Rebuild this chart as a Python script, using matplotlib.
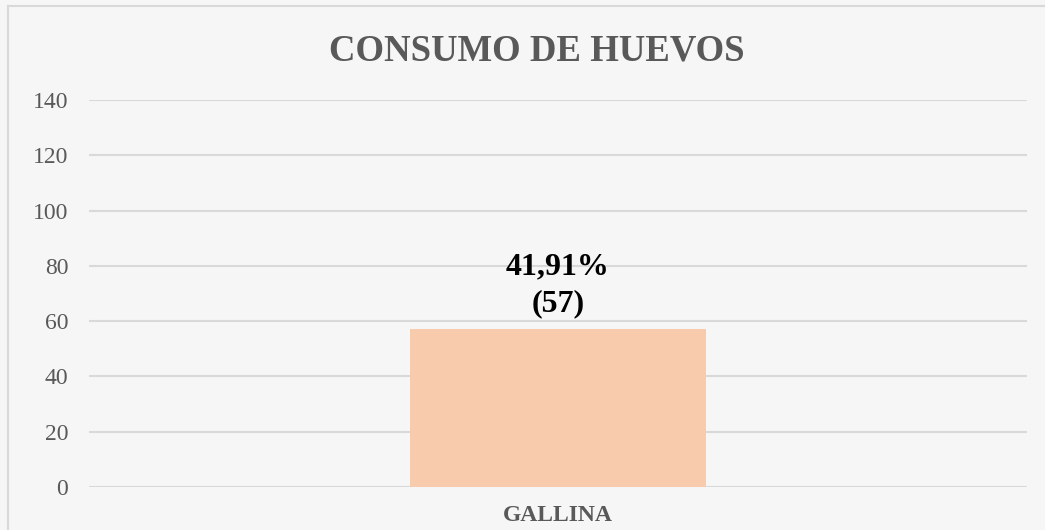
import matplotlib.pyplot as plt
from matplotlib.lines import Line2D

# data
categories = ["GALLINA"]
values = [57]
labels = ["41,91%\n(57)"]
yticks = [0, 20, 40, 60, 80, 100, 120, 140]

plt.rcParams['font.family'] = ['Liberation Serif', 'DejaVu Serif']

fig = plt.figure(figsize=(10.45, 5.3), dpi=100, facecolor='#F6F6F6')
ax = fig.add_axes([89 / 1045, 1 - 487 / 530, 938 / 1045, 387 / 530])
ax.set_facecolor('#F6F6F6')

x = list(range(len(categories)))
ax.bar(x, values, width=0.3145, color='#F8CBAD', zorder=3)
for xi, v, lab in zip(x, values, labels):
    ax.text(xi, v + 4, lab, ha='center', va='bottom', fontsize=23,
            fontweight='bold', color='black', linespacing=1.35)

ax.set_xlim(-0.5, 0.5)
ax.set_ylim(0, 140)
ax.set_yticks(yticks)
ax.set_yticklabels([str(t) for t in yticks], fontsize=17, color='#595959')
ax.set_xticks(x)
ax.set_xticklabels(categories, fontsize=17, fontweight='bold', color='#595959')
ax.tick_params(length=0)
ax.tick_params(axis='y', pad=15)
ax.tick_params(axis='x', pad=13)
ax.grid(axis='y', color='#D9D9D9', linewidth=1.5, zorder=0)
for s in ax.spines.values():
    s.set_visible(False)

fig.text(537 / 1045, 1 - 51 / 530, "CONSUMO DE HUEVOS", ha='center', va='center',
         fontsize=26.5, fontweight='bold', color='#595959')

# outer chart border (left and top only, rest is cropped)
fig.add_artist(Line2D([8 / 1045, 8 / 1045], [0, 1 - 6 / 530], transform=fig.transFigure,
                      color='#D9D9D9', linewidth=1.5))
fig.add_artist(Line2D([8 / 1045, 1], [1 - 6 / 530, 1 - 6 / 530], transform=fig.transFigure,
                      color='#D9D9D9', linewidth=1.5))

fig.savefig('out.png', dpi=100, facecolor=fig.get_facecolor())
